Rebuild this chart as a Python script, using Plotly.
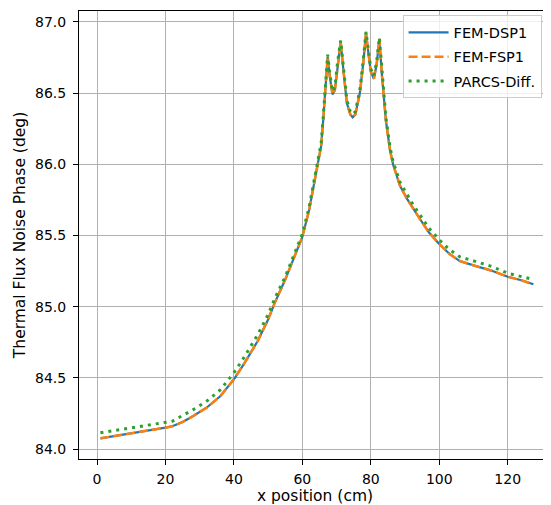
import plotly.graph_objects as go

# ---- data ----
x_pos = [1, 5, 10, 15, 20, 22, 25, 28, 32, 36, 40, 43, 47, 50, 52, 55, 58, 60, 62, 64,
         65, 65.5, 66, 66.5, 67, 67.4, 68, 68.8, 69.5, 70.3, 71.2, 72, 73, 74, 74.7, 75.5,
         76.8, 77.8, 78.6, 79.3, 80, 80.9, 81.7, 82.5, 83.2, 84.4, 85.6, 86.5, 88.5, 90.5,
         92.5, 94.5, 97, 100, 103, 106, 110, 115, 120, 124, 127.5]

fem_dsp1 = [84.075, 84.09, 84.11, 84.13, 84.15, 84.16, 84.19, 84.23, 84.29, 84.37, 84.49,
            84.60, 84.76, 84.91, 85.03, 85.19, 85.37, 85.49, 85.68, 85.95,
            86.06, 86.13, 86.28, 86.45, 86.65, 86.755, 86.62, 86.49, 86.52, 86.70, 86.86,
            86.66, 86.43, 86.35, 86.33, 86.35, 86.50, 86.71, 86.92, 86.78, 86.65, 86.60,
            86.70, 86.88, 86.64, 86.31, 86.10, 86.0, 85.85, 85.76, 85.68, 85.61, 85.52,
            85.44, 85.37, 85.32, 85.29, 85.255, 85.21, 85.185, 85.157]

fem_fsp1 = [84.075, 84.09, 84.11, 84.13, 84.15, 84.16, 84.19, 84.23, 84.29, 84.37, 84.49,
            84.60, 84.76, 84.91, 85.03, 85.19, 85.37, 85.49, 85.68, 85.95,
            86.06, 86.13, 86.28, 86.45, 86.65, 86.755, 86.62, 86.49, 86.52, 86.70, 86.86,
            86.66, 86.43, 86.35, 86.33, 86.35, 86.50, 86.71, 86.92, 86.78, 86.65, 86.60,
            86.70, 86.88, 86.64, 86.31, 86.10, 86.0, 85.85, 85.76, 85.68, 85.61, 85.52,
            85.44, 85.37, 85.32, 85.29, 85.255, 85.21, 85.185, 85.157]

parcs_diff = [84.115, 84.13, 84.15, 84.17, 84.185, 84.195, 84.235, 84.275, 84.335, 84.415,
              84.535, 84.645, 84.805, 84.945, 85.06, 85.21, 85.39, 85.51, 85.70, 85.97,
              86.08, 86.15, 86.30, 86.47, 86.67, 86.77, 86.64, 86.51, 86.54, 86.72, 86.87,
              86.68, 86.45, 86.37, 86.35, 86.37, 86.52, 86.73, 86.93, 86.80, 86.67, 86.62,
              86.72, 86.89, 86.66, 86.33, 86.12, 86.02, 85.875, 85.79, 85.71, 85.64, 85.55,
              85.47, 85.40, 85.35, 85.32, 85.285, 85.235, 85.21, 85.19]

series_names = ["FEM-DSP1", "FEM-FSP1", "PARCS-Diff."]
x_ticks = [0, 20, 40, 60, 80, 100, 120]
y_ticks = [84.0, 84.5, 85.0, 85.5, 86.0, 86.5, 87.0]

FONT = "DejaVu Sans"

fig = go.Figure()
fig.add_trace(go.Scatter(x=x_pos, y=fem_dsp1, mode="lines", name=series_names[0],
                         legendgroup="a", line=dict(color="#1f77b4", width=2.2)))
fig.add_trace(go.Scatter(x=x_pos, y=fem_fsp1, mode="lines", name=series_names[1],
                         legendgroup="b",
                         line=dict(color="#ff7f0e", width=2.5, dash="9px,4px")))
fig.add_trace(go.Scatter(x=x_pos, y=parcs_diff, mode="lines", name=series_names[2],
                         legendgroup="c",
                         line=dict(color="#2ca02c", width=3, dash="3px,5px")))

# the page has an 8px body margin, so the figure is shifted by 8px right/down
fig.update_layout(
    width=543, height=497,
    margin=dict(l=71, r=0, t=3, b=46, pad=0),
    paper_bgcolor="white", plot_bgcolor="white",
    font=dict(family=FONT, size=14, color="black"),
    showlegend=True,
    legend=dict(x=0.98, y=0.99, xanchor="right", yanchor="top",
                bgcolor="rgba(255,255,255,0.8)", bordercolor="#cccccc", borderwidth=1,
                tracegroupgap=2.5, itemwidth=40,
                font=dict(family=FONT, size=14.5, color="black")),
)
fig.update_xaxes(
    range=[-5.26, 132.65], tickvals=x_ticks, ticks="outside", ticklen=5, tickcolor="black",
    ticklabelstandoff=2, tickfont=dict(size=14),
    showline=True, linecolor="black", linewidth=1, mirror=True,
    showgrid=True, gridcolor="#b0b0b0", gridwidth=1.3, zeroline=False,
    title=dict(text="x position (cm)", font=dict(size=15.5), standoff=4),
)
fig.update_yaxes(
    range=[83.93, 87.076], tickvals=y_ticks, tickformat=".1f", ticks="outside", ticklen=5,
    ticklabelstandoff=4, tickfont=dict(size=14),
    tickcolor="black", showline=True, linecolor="black", linewidth=1, mirror=False,
    showgrid=True, gridcolor="#b0b0b0", gridwidth=1.3, zeroline=False,
    title=dict(text="Thermal Flux Noise Phase (deg)", font=dict(size=15.5), standoff=5),
)

fig.write_html("out.html")
